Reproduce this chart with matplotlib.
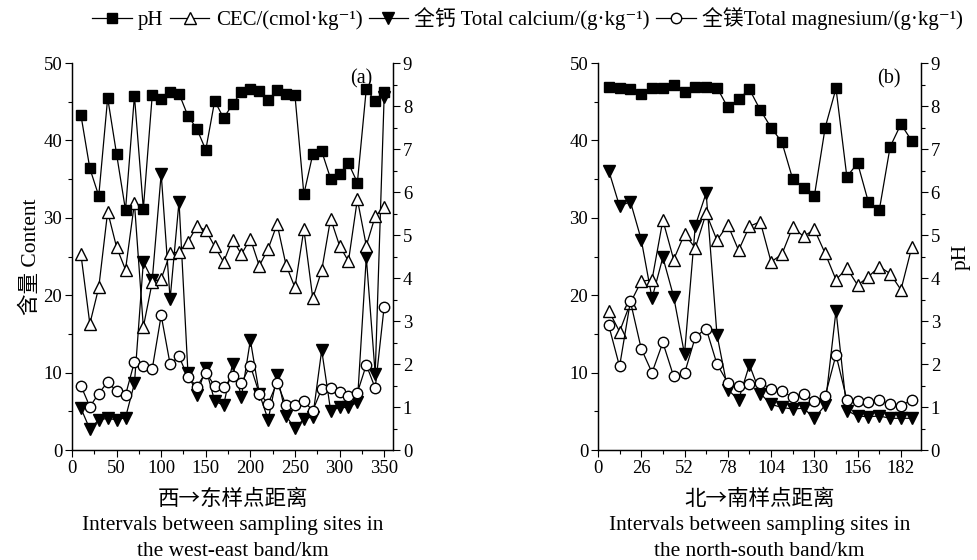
import numpy as np
import matplotlib

matplotlib.use("agg")
import matplotlib.pyplot as plt
from matplotlib.lines import Line2D
from matplotlib.ticker import MultipleLocator

plt.rcParams["font.family"] = ["Liberation Serif", "Noto Sans CJK SC", "DejaVu Serif"]
CJK = ["Noto Sans CJK SC", "DejaVu Sans"]

# west-east band (a)
we_dist = [10, 20, 30, 40, 50, 60, 70, 80, 90, 100, 110, 120, 130, 140, 150, 160, 170, 180,
           190, 200, 210, 220, 230, 240, 250, 260, 270, 280, 290, 300, 310, 320, 330, 340, 350]
we_ph = [7.79, 6.55, 5.91, 8.19, 6.88, 5.58, 8.24, 5.61, 8.26, 8.16, 8.33, 8.29, 7.77, 7.47,
         6.98, 8.12, 7.72, 8.04, 8.33, 8.39, 8.36, 8.13, 8.37, 8.29, 8.25, 5.95, 6.88, 6.95,
         6.31, 6.43, 6.67, 6.22, 8.40, 8.11, 8.33]
we_cec = [25.3, 16.3, 21.0, 30.8, 26.2, 23.3, 31.9, 15.9, 21.7, 22.1, 25.4, 25.6, 26.9, 28.9,
          28.4, 26.3, 24.3, 27.2, 25.3, 27.3, 23.8, 26.0, 29.2, 23.9, 21.0, 28.5, 19.6, 23.2,
          29.9, 26.4, 24.4, 32.4, 26.4, 30.2, 31.4]
we_ca = [5.4, 2.7, 3.9, 4.1, 3.9, 4.2, 8.6, 24.3, 22.0, 35.7, 19.5, 32.1, 10.0, 7.1, 10.6,
         6.3, 5.8, 11.1, 6.9, 14.2, 7.3, 3.9, 9.7, 4.4, 2.8, 4.0, 4.3, 12.9, 5.1, 5.5, 5.5,
         6.2, 24.9, 9.8, 45.6]
we_mg = [8.3, 5.6, 7.3, 8.8, 7.6, 7.1, 11.4, 10.9, 10.5, 17.4, 11.1, 12.1, 9.4, 8.2, 10.0,
         8.3, 8.1, 9.5, 8.7, 10.9, 7.3, 6.0, 8.7, 5.8, 5.8, 6.3, 5.1, 7.9, 8.0, 7.5, 7.0, 7.4,
         11.0, 8.0, 18.5]

# north-south band (b)
ns_dist = [6.5, 13, 19.5, 26, 32.5, 39, 45.5, 52, 58.5, 65, 71.5, 78, 84.5, 91, 97.5, 104,
           110.5, 117, 123.5, 130, 136.5, 143, 149.5, 156, 162.5, 169, 175.5, 182, 188.5]
ns_ph = [8.45, 8.41, 8.39, 8.29, 8.43, 8.41, 8.50, 8.32, 8.45, 8.45, 8.43, 7.97, 8.16, 8.39,
         7.91, 7.50, 7.16, 6.30, 6.10, 5.91, 7.50, 8.41, 6.36, 6.67, 5.76, 5.58, 7.05, 7.58, 7.19]
ns_cec = [18.0, 15.3, 19.0, 21.8, 22.0, 29.7, 24.6, 27.9, 26.1, 30.6, 27.1, 29.1, 25.8, 28.9,
          29.5, 24.3, 25.3, 28.8, 27.6, 28.5, 25.4, 22.0, 23.5, 21.3, 22.4, 23.7, 22.8, 20.7, 26.2]
ns_ca = [36.1, 31.5, 32.1, 27.2, 19.6, 24.9, 19.8, 12.4, 29.0, 33.2, 14.9, 7.8, 6.5, 11.0,
         7.3, 5.9, 5.5, 5.3, 5.4, 4.1, 5.8, 18.0, 5.1, 4.4, 4.3, 4.4, 4.1, 4.1, 4.1]
ns_mg = [16.1, 10.8, 19.2, 13.1, 10.0, 13.9, 9.5, 9.9, 14.6, 15.7, 11.1, 8.7, 8.3, 8.5, 8.7,
         7.9, 7.6, 6.8, 7.3, 6.3, 7.0, 12.3, 6.5, 6.3, 6.2, 6.5, 5.9, 5.7, 6.5]

labels = ["pH", "CEC/(cmol·kg⁻¹)", "全钙 Total calcium/(g·kg⁻¹)", "全镁Total magnesium/(g·kg⁻¹)"]

lw = 0.9
sq = dict(color="k", lw=lw, marker="s", ms=6.5, mfc="k", mec="k")
tri = dict(color="k", lw=lw, marker="^", ms=8.5, mfc="white", mec="k", mew=1)
tri_d = dict(color="k", lw=lw, marker="v", ms=8.5, mfc="k", mec="k")
circ = dict(color="k", lw=lw, marker="o", ms=7.5, mfc="white", mec="k", mew=1)

fig = plt.figure(figsize=(9.77, 5.6), dpi=100)


def style_axis(ax):
    ax.tick_params(direction="out", length=5, width=0.8, labelsize=13.5, pad=2)
    ax.tick_params(which="minor", direction="out", length=3, width=0.8)
    for s in ax.spines.values():
        s.set_linewidth(0.9)
    ax.spines["top"].set_visible(False)


def draw_panel(rect, dist, ph, cec, ca, mg, xmax, xmajor, letter, cn_label, en_label, ph_label):
    ax = fig.add_axes(rect)
    ax.plot(dist, cec, **tri, zorder=3)
    ax.plot(dist, ca, **tri_d, zorder=2)
    ax.plot(dist, mg, **circ, zorder=4)
    ax.set_xlim(0, xmax)
    ax.set_ylim(0, 50)
    ax.xaxis.set_major_locator(MultipleLocator(xmajor))
    ax.xaxis.set_minor_locator(MultipleLocator(xmajor / 2))
    ax.yaxis.set_major_locator(MultipleLocator(10))
    ax.yaxis.set_minor_locator(MultipleLocator(5))
    style_axis(ax)
    ax.set_xticks(np.arange(0, xmax, xmajor))

    ax2 = ax.twinx()
    ax2.plot(dist, ph, **sq, zorder=5)
    ax2.set_ylim(0, 9)
    ax2.yaxis.set_major_locator(MultipleLocator(1))
    ax2.yaxis.set_minor_locator(MultipleLocator(0.5))
    style_axis(ax2)
    if ph_label:
        ax2.set_ylabel("pH", fontsize=15.5, labelpad=8)

    ax.text(0.9, 0.985, letter, transform=ax.transAxes, ha="center", va="top", fontsize=14.5)
    ax.text(0.5, -0.126, cn_label, transform=ax.transAxes, ha="center", va="center",
            fontsize=15.5, family=CJK)
    ax.text(0.5, -0.229, en_label, transform=ax.transAxes, ha="center", va="center",
            fontsize=15.4, linespacing=1.5)
    return ax


axa = draw_panel([0.0737, 0.1964, 0.3286, 0.691], we_dist, we_ph, we_cec, we_ca, we_mg,
                 360, 50, "(a)", "西→东样点距离",
                 "Intervals between sampling sites in\nthe west-east band/km", False)
axa.set_ylabel("含量 Content", fontsize=15.5, labelpad=2)

axb = draw_panel([0.612, 0.1964, 0.3306, 0.691], ns_dist, ns_ph, ns_cec, ns_ca, ns_mg,
                 194, 26, "(b)", "北→南样点距离",
                 "Intervals between sampling sites in\nthe north-south band/km", True)

handles = [Line2D([], [], **sq), Line2D([], [], **tri), Line2D([], [], **tri_d),
           Line2D([], [], **circ)]
fig.legend(handles, labels, loc="center", bbox_to_anchor=(0.54, 0.967), ncol=4,
           frameon=False, fontsize=15, handlelength=1.9, handletextpad=0.3,
           columnspacing=0.3, borderpad=0.1)

fig.savefig("out.png", dpi=100)
